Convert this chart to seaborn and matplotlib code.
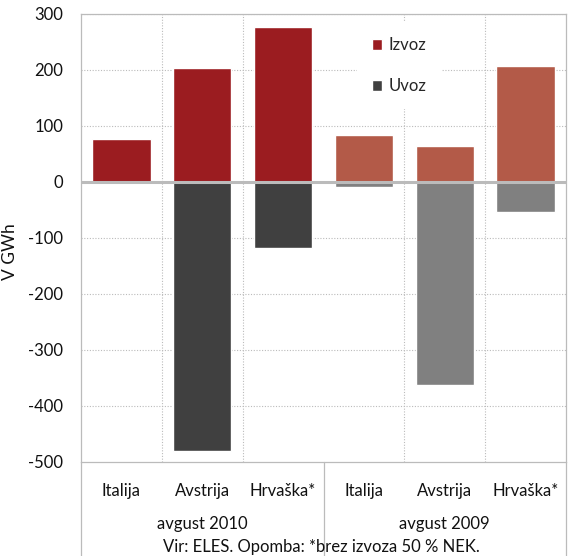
import seaborn as sns
import matplotlib.pyplot as plt
import matplotlib.transforms as mtransforms
from matplotlib.patches import Patch
import pandas as pd

drzave = ['Italija', 'Avstrija', 'Hrvaška*']
obdobja = ['avgust 2010', 'avgust 2009']
izvoz_2010 = [77, 203, 277]
uvoz_2010 = [0, -480, -118]
izvoz_2009 = [84, 64, 207]
uvoz_2009 = [-9, -363, -54]
barve_izvoz = ['#9B1C20', '#B35A48']
barve_uvoz = ['#404040', '#808080']

kljuci = [f'{o} {d}' for o in obdobja for d in drzave]
df = pd.DataFrame({
    'kljuc': kljuci,
    'drzava': drzave * 2,
    'Izvoz': izvoz_2010 + izvoz_2009,
    'Uvoz': uvoz_2010 + uvoz_2009,
})
pal_izvoz = {k: barve_izvoz[i // 3] for i, k in enumerate(kljuci)}
pal_uvoz = {k: barve_uvoz[i // 3] for i, k in enumerate(kljuci)}

sns.set_style('white')
plt.rcParams['font.family'] = ['Lato', 'DejaVu Sans']
plt.rcParams['axes.unicode_minus'] = False

fs = 12
fig = plt.figure(figsize=(5.69, 5.56), dpi=100)
ax = fig.add_axes([0.1424, 0.1691, 0.8523, 0.8058])

sns.barplot(data=df, x='kljuc', y='Izvoz', hue='kljuc', palette=pal_izvoz,
            order=kljuci, width=0.72, saturation=1, legend=False, ax=ax, zorder=3)
sns.barplot(data=df, x='kljuc', y='Uvoz', hue='kljuc', palette=pal_uvoz,
            order=kljuci, width=0.72, saturation=1, legend=False, ax=ax, zorder=3)

ax.set_ylim(-500, 300)
ax.set_xlim(-0.5, 5.5)
ax.set_yticks(range(-500, 301, 100))
ax.set_xticks(range(6))
ax.set_xticklabels(df['drzava'])
ax.tick_params(axis='both', length=0, labelsize=fs, colors='#111111')
ax.tick_params(axis='x', pad=15)
ax.tick_params(axis='y', pad=13)

for y in range(-400, 301, 100):
    if y != 0:
        ax.axhline(y, color='#BBBBBB', lw=0.8, ls=(0, (1, 1.5)), zorder=1)
for x in [0.5, 1.5, 3.5, 4.5]:
    ax.axvline(x, color='#BBBBBB', lw=0.8, ls=(0, (1, 1.5)), zorder=1)
ax.axhline(0, color='#BBBBBB', lw=2.2, zorder=4)

for s in ax.spines.values():
    s.set_color('#BBBBBB')
    s.set_linewidth(0.9)

trans = mtransforms.blended_transform_factory(ax.transAxes, ax.transAxes)
for x in [0, 0.5, 1]:
    ax.plot([x, x], [0, -0.215], transform=trans, color='#BBBBBB', lw=0.9,
            clip_on=False, zorder=2)

ax.set_xlabel('')
ax.set_ylabel('V GWh', fontsize=fs + 0.5, color='#111111')
ax.yaxis.set_label_coords(-0.13, 0.47)

for i, o in enumerate(obdobja):
    ax.text(0.25 + 0.5 * i, -0.139, o, transform=ax.transAxes, ha='center',
            va='center', fontsize=fs, color='#111111')
fig.text(321 / 569, 1 - 547 / 556, 'Vir: ELES. Opomba: *brez izvoza 50 % NEK.',
         ha='center', va='center', fontsize=fs, color='#111111')

roke = [Patch(facecolor=barve_izvoz[0], label='Izvoz'),
        Patch(facecolor=barve_uvoz[0], label='Uvoz')]
leg = ax.legend(handles=roke, loc='upper left', bbox_to_anchor=(0.552, 1.0),
                frameon=True, facecolor='white', edgecolor='none', framealpha=1,
                handlelength=0.6, handleheight=0.6, handletextpad=0.4,
                labelspacing=1.5, fontsize=fs, borderpad=0.9)
leg.set_zorder(5)

fig.savefig('out.png', dpi=100)
